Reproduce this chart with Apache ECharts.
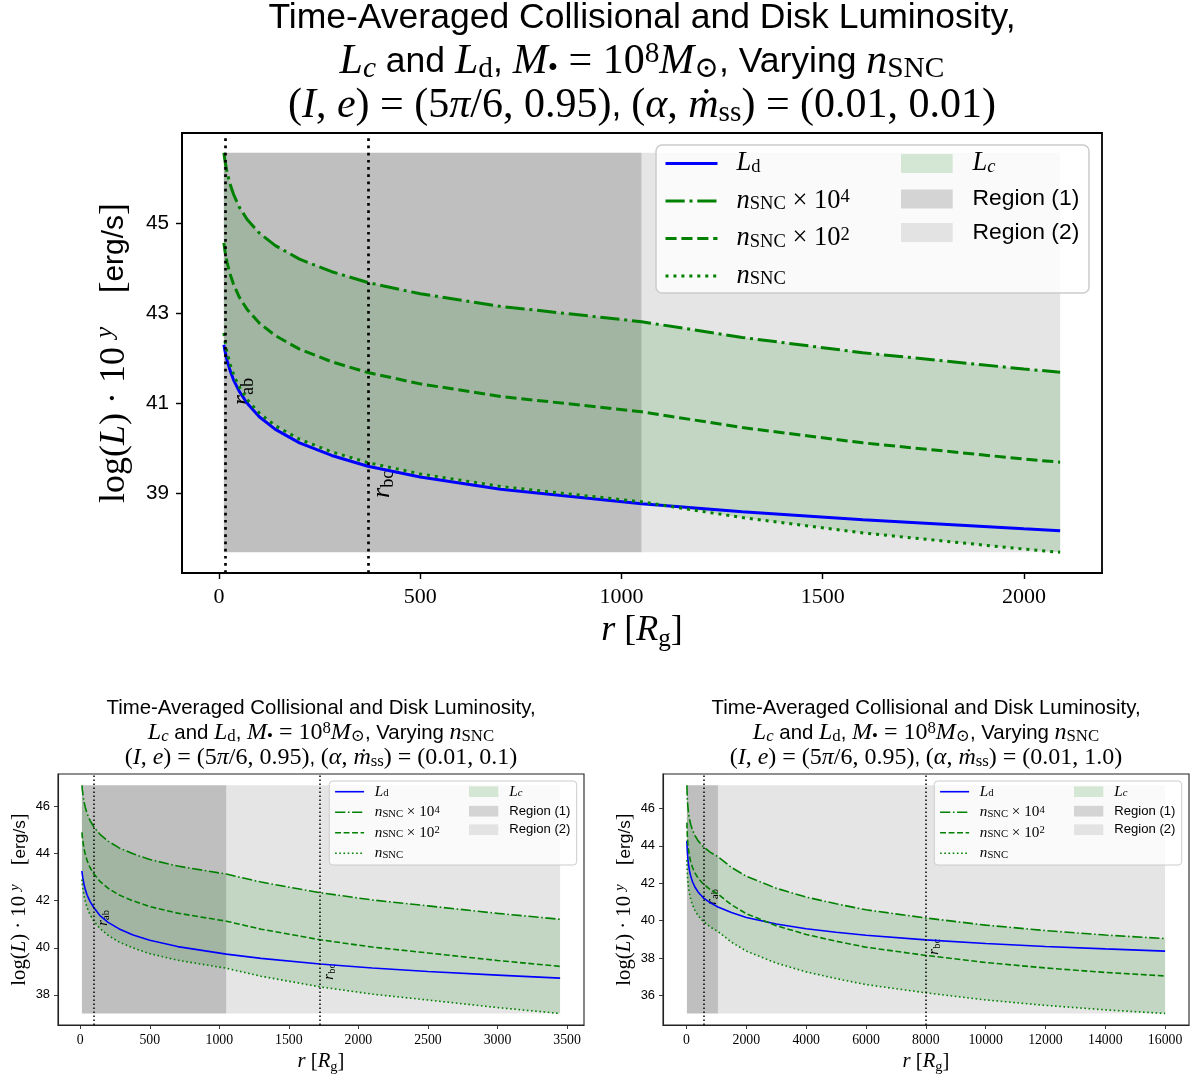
<!DOCTYPE html>
<html>
<head>
<meta charset="utf-8">
<script src="https://cdn.jsdelivr.net/npm/echarts@6/dist/echarts.min.js"></script>
<style>html,body{margin:0;padding:0;background:#fff}#c{width:1197px;height:1080px}</style>
</head>
<body>
<div id="c"></div>
<script>
// ================= DATA =================
// Panel 1: (alpha, mdot_ss) = (0.01, 0.01)
const rTop      = [12, 15, 20, 27, 36, 50, 70, 100, 140, 200, 280, 370, 500, 700, 1050, 1300, 1600, 2000, 2090];
const ldTop     = [42.31, 42.16, 41.96, 41.75, 41.53, 41.28, 41.01, 40.71, 40.43, 40.13, 39.85, 39.61, 39.37, 39.10, 38.78, 38.60, 38.42, 38.22, 38.18];
const nsnc4Top  = [46.57, 46.38, 46.14, 45.89, 45.65, 45.37, 45.09, 44.79, 44.51, 44.21, 43.93, 43.69, 43.44, 43.16, 42.82, 42.47, 42.13, 41.77, 41.70];
const nsnc2Top  = [44.57, 44.38, 44.14, 43.89, 43.65, 43.37, 43.09, 42.79, 42.51, 42.21, 41.93, 41.69, 41.44, 41.16, 40.82, 40.47, 40.13, 39.77, 39.70];
const nsncTop   = [42.57, 42.38, 42.14, 41.89, 41.65, 41.37, 41.09, 40.79, 40.51, 40.21, 39.93, 39.69, 39.44, 39.16, 38.82, 38.47, 38.13, 37.77, 37.70];
const region1Top = [12, 1050];
const region2Top = [1050, 2090];
const regionYTop = [37.70, 46.57];
const radiiTop   = [15, 370];          // r_ab, r_bc
const radLabelYTop = [41.27, 39.21];
const xTicksTop = [0, 500, 1000, 1500, 2000];
const yTicksTop = [39, 41, 43, 45];

// Panel 2: (alpha, mdot_ss) = (0.01, 0.1)
const rMid      = [12, 15, 20, 27, 36, 50, 70, 96, 140, 200, 280, 380, 500, 700, 1050, 1300, 1723, 2100, 2500, 3000, 3450];
const ldMid     = [43.26, 43.11, 42.91, 42.70, 42.48, 42.23, 41.97, 41.72, 41.38, 41.08, 40.80, 40.54, 40.32, 40.05, 39.73, 39.55, 39.31, 39.14, 38.99, 38.84, 38.71];
const nsnc4Mid  = [46.90, 46.71, 46.47, 46.21, 45.97, 45.69, 45.41, 45.15, 44.83, 44.53, 44.24, 43.99, 43.75, 43.47, 43.13, 42.79, 42.34, 42.03, 41.78, 41.46, 41.21];
const nsnc2Mid  = [44.90, 44.71, 44.47, 44.21, 43.97, 43.69, 43.41, 43.15, 42.83, 42.53, 42.24, 41.99, 41.75, 41.47, 41.13, 40.79, 40.34, 40.03, 39.78, 39.46, 39.21];
const nsncMid   = [42.90, 42.71, 42.47, 42.21, 41.97, 41.69, 41.41, 41.15, 40.83, 40.53, 40.24, 39.99, 39.75, 39.47, 39.13, 38.79, 38.34, 38.03, 37.78, 37.46, 37.21];
const region1Mid = [12, 1050];
const region2Mid = [1050, 3450];
const regionYMid = [37.21, 46.90];
const radiiMid   = [96, 1723];
const radLabelYMid = [41.27, 38.98];
const xTicksMid = [0, 500, 1000, 1500, 2000, 2500, 3000, 3500];
const yTicksMid = [38, 40, 42, 44, 46];

// Panel 3: (alpha, mdot_ss) = (0.01, 1.0)
const rHigh     = [12, 15, 20, 27, 36, 50, 70, 100, 140, 200, 280, 400, 580, 800, 1050, 1500, 2000, 3000, 4000, 5000, 6000, 8000, 10000, 12000, 14000, 16000];
const ldHigh    = [44.27, 44.11, 43.91, 43.70, 43.48, 43.23, 42.96, 42.66, 42.38, 42.08, 41.80, 41.50, 41.19, 40.95, 40.73, 40.43, 40.17, 39.82, 39.57, 39.38, 39.22, 38.97, 38.78, 38.62, 38.49, 38.37];
const nsnc4High = [47.24, 47.05, 46.80, 46.55, 46.30, 46.02, 45.73, 45.43, 45.14, 44.84, 44.55, 44.24, 43.93, 43.65, 43.42, 42.85, 42.37, 41.73, 41.26, 40.90, 40.58, 40.14, 39.76, 39.47, 39.23, 39.04];
const nsnc2High = [45.24, 45.05, 44.80, 44.55, 44.30, 44.02, 43.73, 43.43, 43.14, 42.84, 42.55, 42.24, 41.93, 41.65, 41.42, 40.85, 40.37, 39.73, 39.26, 38.90, 38.58, 38.14, 37.76, 37.47, 37.23, 37.04];
const nsncHigh  = [43.24, 43.05, 42.80, 42.55, 42.30, 42.02, 41.73, 41.43, 41.14, 40.84, 40.55, 40.24, 39.93, 39.65, 39.42, 38.85, 38.37, 37.73, 37.26, 36.90, 36.58, 36.14, 35.76, 35.47, 35.23, 35.04];
const region1High = [12, 1050];
const region2High = [1050, 16000];
const regionYHigh = [35.04, 47.24];
const radiiHigh   = [580, 8000];
const radLabelYHigh = [41.27, 38.6];
const xTicksHigh = [0, 2000, 4000, 6000, 8000, 10000, 12000, 14000, 16000];
const yTicksHigh = [36, 38, 40, 42, 44, 46];

const mdotLabels = ['0.01', '0.1', '1.0'];

// ================= STYLE / LAYOUT =================
const SANS = "'Liberation Sans','DejaVu Sans',Arial,sans-serif";
const SERIF = "'Liberation Serif','DejaVu Serif','Times New Roman',serif";

function R(parts) { return parts.map(p => '{' + p[0] + '|' + p[1] + '}').join(''); }
function rs(F, M, L) {
  const S = +(M * 0.7).toFixed(2);
  const h = Math.max(L - 0.6 * M, 0.3 * M);
  const mk = o => Object.assign({ color: '#000', fontWeight: 'normal' }, o);
  return {
    s: mk({ fontFamily: SANS, fontSize: F, lineHeight: L, verticalAlign: 'middle' }),
    r: mk({ fontFamily: SERIF, fontSize: M, lineHeight: L, verticalAlign: 'middle' }),
    i: mk({ fontFamily: SERIF, fontSize: M, lineHeight: L, verticalAlign: 'middle', fontStyle: 'italic' }),
    b: mk({ fontFamily: SERIF, fontSize: S, lineHeight: h, verticalAlign: 'bottom' }),
    bi: mk({ fontFamily: SERIF, fontSize: S, lineHeight: h, verticalAlign: 'bottom', fontStyle: 'italic' }),
    p: mk({ fontFamily: SERIF, fontSize: S, lineHeight: h, verticalAlign: 'top' }),
    pi: mk({ fontFamily: SERIF, fontSize: S, lineHeight: h, verticalAlign: 'top', fontStyle: 'italic' })
  };
}

function titleText(mdot) {
  return [
    R([['s', 'Time-Averaged Collisional and Disk Luminosity,']]),
    R([['i', 'L'], ['bi', 'c'], ['s', ' and '], ['i', 'L'], ['b', 'd'], ['s', ', '], ['i', 'M'], ['b', '•'],
       ['r', ' = 10'], ['p', '8'], ['i', 'M'], ['b', '⊙'], ['s', ', Varying '], ['i', 'n'], ['b', 'SNC']]),
    R([['r', '('], ['i', 'I'], ['r', ', '], ['i', 'e'], ['r', ') = (5'], ['i', 'π'], ['r', '/6, 0.95)'], ['s', ', '],
       ['r', '('], ['i', 'α'], ['r', ', '], ['i', 'ṁ'], ['b', 'ss'], ['r', ') = (0.01, ' + mdot + ')']])
  ].join('\n');
}
const yName = R([['r', 'log'], ['r', '('], ['i', 'L'], ['r', ')'], ['r', ' · 10 '], ['pi', 'y'], ['s', '    '], ['r', '['], ['s', 'erg/s'], ['r', ']']]);
const xName = R([['i', 'r'], ['r', ' ['], ['i', 'R'], ['b', 'g'], ['r', ']']]);
const legendLabel = {
  Ld: R([['i', 'L'], ['b', 'd']]),
  N4: R([['i', 'n'], ['b', 'SNC'], ['r', ' × 10'], ['p', '4']]),
  N2: R([['i', 'n'], ['b', 'SNC'], ['r', ' × 10'], ['p', '2']]),
  N0: R([['i', 'n'], ['b', 'SNC']]),
  Lc: R([['i', 'L'], ['bi', 'c']]),
  R1: R([['s', 'Region (1)']]),
  R2: R([['s', 'Region (2)']])
};

const panels = [
  { r: rTop, ld: ldTop, n4: nsnc4Top, n2: nsnc2Top, n0: nsncTop, reg1: region1Top, reg2: region2Top, regY: regionYTop,
    radii: radiiTop, labY: radLabelYTop, xt: xTicksTop, yt: yTicksTop, mdot: mdotLabels[0],
    grid: { left: 182, top: 133, width: 920, height: 440 }, xr: [-92, 2194], yr: [37.24, 47.01],
    cx: 642, titleTop: -4, tF: 35.5, tM: 42, tL: 44,
    axisW: 1.8, axisC: '#000', tickLen: 6, xFs: 22, yFs: 20.7, xMargin: 13, yMargin: 13,
    yNameF: 30, yNameM: 36, yNameL: 43, yNameGap: 46, xNameM: 36, xNameL: 43, xNameGap: 36,
    lw: 3, vlw: 2.7,
    dd: [19.2, 4.8, 3, 4.8], ds: [11.1, 4.8], dt: [3, 4.95], vdt: [2.7, 4.5],
    labM: 26, labL: 30, labDx: [17, 14],
    lg: { box: [656, 145, 433, 148, 6], l1: 664, l2: 901, top: 150, iw1: 52, iw2: 51.7, ih1: 16, ih2: 19, gap: 10.5,
          pad1: 14, pad2: 14.7, F: 22.9, M: 26.5, L: 26 } },
  { r: rMid, ld: ldMid, n4: nsnc4Mid, n2: nsnc2Mid, n0: nsncMid, reg1: region1Mid, reg2: region2Mid, regY: regionYMid,
    radii: radiiMid, labY: radLabelYMid, xt: xTicksMid, yt: yTicksMid, mdot: mdotLabels[1],
    grid: { left: 58, top: 774, width: 526, height: 251 }, xr: [-160, 3622], yr: [36.72, 47.38],
    cx: 321, titleTop: 695.5, tF: 20.4, tM: 24, tL: 25,
    axisW: 1.1, axisC: '#222', tickLen: 4, xFs: 13.8, yFs: 12.9, xMargin: 8, yMargin: 8,
    yNameF: 17.2, yNameM: 20.7, yNameL: 24, yNameGap: 26, xNameM: 20.7, xNameL: 24, xNameGap: 25,
    lw: 1.6, vlw: 1.5,
    dd: [10.2, 2.6, 1.6, 2.6], ds: [5.9, 2.6], dt: [1.6, 2.6], vdt: [1.5, 2.5],
    labM: 15, labL: 17, labDx: [9.6, 9],
    lg: { box: [329.3, 781, 247.4, 84, 3.5], l1: 334.3, l2: 469, top: 784.2, iw1: 29, iw2: 29.3, ih1: 9, ih2: 10.7, gap: 5.5,
          pad1: 5.7, pad2: 6, F: 13.1, M: 15.2, L: 15 } },
  { r: rHigh, ld: ldHigh, n4: nsnc4High, n2: nsnc2High, n0: nsncHigh, reg1: region1High, reg2: region2High, regY: regionYHigh,
    radii: radiiHigh, labY: radLabelYHigh, xt: xTicksHigh, yt: yTicksHigh, mdot: mdotLabels[2],
    grid: { left: 663, top: 774, width: 526, height: 251 }, xr: [-787, 16799], yr: [34.42, 47.84],
    cx: 926, titleTop: 695.5, tF: 20.4, tM: 24, tL: 25,
    axisW: 1.1, axisC: '#222', tickLen: 4, xFs: 13.8, yFs: 12.9, xMargin: 8, yMargin: 8,
    yNameF: 17.2, yNameM: 20.7, yNameL: 24, yNameGap: 26, xNameM: 20.7, xNameL: 24, xNameGap: 25,
    lw: 1.6, vlw: 1.5,
    dd: [10.2, 2.6, 1.6, 2.6], ds: [5.9, 2.6], dt: [1.6, 2.6], vdt: [1.5, 2.5],
    labM: 15, labL: 17, labDx: [8.6, 8.4],
    lg: { box: [934.3, 781, 247.4, 84, 3.5], l1: 939.3, l2: 1074, top: 784.2, iw1: 29, iw2: 29.3, ih1: 9, ih2: 10.7, gap: 5.5,
          pad1: 5.7, pad2: 6, F: 13.1, M: 15.2, L: 15 } }
];

const COL_BLUE = '#0000ff', COL_GREEN = '#008000';
const COL_FILL = 'rgba(0,128,0,0.15)';
const COL_R1 = '#bfbfbf', COL_R2 = '#e5e5e5';
const COL_R1_LEG = '#d4d4d4', COL_R2_LEG = '#e3e3e3';

function rectSeries(name, k, xs, ys, color) {
  return {
    type: 'custom', name: name, xAxisIndex: k, yAxisIndex: k, z: 1, silent: true,
    itemStyle: { color: color },
    data: [[xs[0], ys[0], xs[1], ys[1]]],
    encode: { x: [0, 2], y: [1, 3] },
    renderItem: function (params, api) {
      const p0 = api.coord([api.value(0), api.value(3)]);
      const p1 = api.coord([api.value(2), api.value(1)]);
      return { type: 'rect', shape: { x: p0[0], y: p0[1], width: p1[0] - p0[0], height: p1[1] - p0[1] },
               style: { fill: color } };
    }
  };
}
function bandSeries(name, k, r, lo, hi, color) {
  return {
    type: 'custom', name: name, xAxisIndex: k, yAxisIndex: k, z: 2, silent: true,
    itemStyle: { color: color },
    data: r.map((x, i) => [x, lo[i], hi[i]]),
    encode: { x: 0, y: [1, 2] },
    renderItem: function (params, api) {
      if (params.dataIndex !== 0) return null;
      const pts = [];
      for (let i = 0; i < r.length; i++) pts.push(api.coord([r[i], hi[i]]));
      for (let i = r.length - 1; i >= 0; i--) pts.push(api.coord([r[i], lo[i]]));
      return { type: 'polygon', shape: { points: pts }, style: { fill: color } };
    }
  };
}
function lineSeries(name, k, r, y, color, width, type, extra) {
  return Object.assign({
    type: 'line', name: name, xAxisIndex: k, yAxisIndex: k, z: 3,
    data: r.map((x, i) => [x, y[i]]),
    symbol: 'none', showSymbol: false, smooth: false, silent: true,
    lineStyle: { color: color, width: width, type: type },
    itemStyle: { color: color }
  }, extra || {});
}
const plainNum = v => String(v);

const option = {
  animation: false, backgroundColor: '#fff',
  title: [], grid: [], xAxis: [], yAxis: [], legend: [], series: [],
  graphic: { elements: [] }
};

panels.forEach((p, k) => {
  option.title.push({
    text: titleText(p.mdot), left: p.cx, top: p.titleTop, textAlign: 'center', padding: 0,
    textStyle: { fontWeight: 'normal', rich: rs(p.tF, p.tM, p.tL) }
  });
  option.grid.push(Object.assign({ show: true, borderColor: p.axisC, borderWidth: p.axisW, backgroundColor: 'transparent', containLabel: false }, p.grid));
  option.xAxis.push({
    type: 'value', gridIndex: k, min: p.xr[0], max: p.xr[1],
    name: xName, nameLocation: 'middle', nameGap: p.xNameGap,
    nameTextStyle: { fontWeight: 'normal', rich: rs(p.xNameM, p.xNameM, p.xNameL) },
    axisLine: { show: true, onZero: false, lineStyle: { color: p.axisC, width: p.axisW } },
    axisTick: { show: true, customValues: p.xt, length: p.tickLen, lineStyle: { color: p.axisC, width: p.axisW * 0.8 } },
    axisLabel: { customValues: p.xt, formatter: plainNum, margin: p.xMargin, fontFamily: SERIF, fontSize: p.xFs, color: '#000' },
    splitLine: { show: false }
  });
  option.yAxis.push({
    type: 'value', gridIndex: k, min: p.yr[0], max: p.yr[1],
    name: yName, nameLocation: 'middle', nameGap: p.yNameGap, nameRotate: 90,
    nameTextStyle: { fontWeight: 'normal', rich: rs(p.yNameF, p.yNameM, p.yNameL) },
    axisLine: { show: true, onZero: false, lineStyle: { color: p.axisC, width: p.axisW } },
    axisTick: { show: true, customValues: p.yt, length: p.tickLen, lineStyle: { color: p.axisC, width: p.axisW * 0.8 } },
    axisLabel: { customValues: p.yt, formatter: plainNum, margin: p.yMargin, fontFamily: SANS, fontSize: p.yFs, color: '#000' },
    splitLine: { show: false }
  });

  // shaded regions, L_c band
  option.series.push(rectSeries('R2' + k, k, p.reg2, p.regY, COL_R2));
  option.series.push(rectSeries('R1' + k, k, p.reg1, p.regY, COL_R1));
  option.series.push(bandSeries('Lc' + k, k, p.r, p.n0, p.n4, COL_FILL));

  // lines
  const labRich = rs(p.labM, p.labM, p.labL);
  option.series.push(lineSeries('Ld' + k, k, p.r, p.ld, COL_BLUE, p.lw, 'solid', {
    markLine: {
      silent: true, z: 4, symbol: ['none', 'none'], label: { show: false }, emphasis: { disabled: true },
      lineStyle: { color: '#000', width: p.vlw, type: p.vdt },
      data: [{ xAxis: p.radii[0] }, { xAxis: p.radii[1] }]
    },
    markPoint: {
      silent: true, z: 2.5, symbol: 'circle', symbolSize: 0, itemStyle: { color: 'rgba(0,0,0,0)' },
      label: { show: true, position: 'inside', rotate: 90, rich: labRich },
      data: [
        { coord: [p.radii[0], p.labY[0]], label: { offset: [0, p.labDx[0]], formatter: R([['i', 'r'], ['b', 'ab']]) } },
        { coord: [p.radii[1], p.labY[1]], label: { offset: [0, p.labDx[1]], formatter: R([['i', 'r'], ['b', 'bc']]) } }
      ]
    }
  }));
  option.series.push(lineSeries('N4' + k, k, p.r, p.n4, COL_GREEN, p.lw, p.dd));
  option.series.push(lineSeries('N2' + k, k, p.r, p.n2, COL_GREEN, p.lw, p.ds));
  option.series.push(lineSeries('N0' + k, k, p.r, p.n0, COL_GREEN, p.lw, p.dt));

  // legends
  const g = p.lg;
  const lRich = rs(g.F, g.M, g.L);
  const fmt = n => legendLabel[n.slice(0, 2)];
  const hideSym = { opacity: 0, color: 'rgba(0,0,0,0)', borderWidth: 0 };
  option.legend.push({
    orient: 'vertical', left: g.l1, top: g.top, padding: 0, itemWidth: g.iw1, itemHeight: g.ih1, itemGap: g.gap,
    selectedMode: false, z: 5, formatter: fmt,
    textStyle: { padding: [0, 0, 0, g.pad1], rich: lRich },
    data: [
      { name: 'Ld' + k, itemStyle: hideSym, lineStyle: { color: COL_BLUE, width: p.lw, type: 'solid' } },
      { name: 'N4' + k, itemStyle: hideSym, lineStyle: { color: COL_GREEN, width: p.lw, type: p.dd } },
      { name: 'N2' + k, itemStyle: hideSym, lineStyle: { color: COL_GREEN, width: p.lw, type: p.ds } },
      { name: 'N0' + k, itemStyle: hideSym, lineStyle: { color: COL_GREEN, width: p.lw, type: p.dt } }
    ]
  });
  option.legend.push({
    orient: 'vertical', left: g.l2, top: g.top, padding: 0, itemWidth: g.iw2, itemHeight: g.ih2, itemGap: g.gap,
    selectedMode: false, z: 5, formatter: fmt,
    textStyle: { padding: [0, 0, 0, g.pad2], rich: lRich },
    data: [
      { name: 'Lc' + k, icon: 'rect', itemStyle: { color: COL_FILL, borderWidth: 0 } },
      { name: 'R1' + k, icon: 'rect', itemStyle: { color: COL_R1_LEG, borderWidth: 0 } },
      { name: 'R2' + k, icon: 'rect', itemStyle: { color: COL_R2_LEG, borderWidth: 0 } }
    ]
  });
  option.graphic.elements.push({
    type: 'rect', z: 3.5, silent: true,
    shape: { x: g.box[0], y: g.box[1], width: g.box[2], height: g.box[3], r: g.box[4] },
    style: { fill: 'rgba(255,255,255,0.8)', stroke: '#cccccc', lineWidth: k === 0 ? 1.5 : 1 }
  });
});

const chart = echarts.init(document.getElementById('c'), null, { renderer: 'canvas' });
chart.setOption(option);
</script>
</body>
</html>
